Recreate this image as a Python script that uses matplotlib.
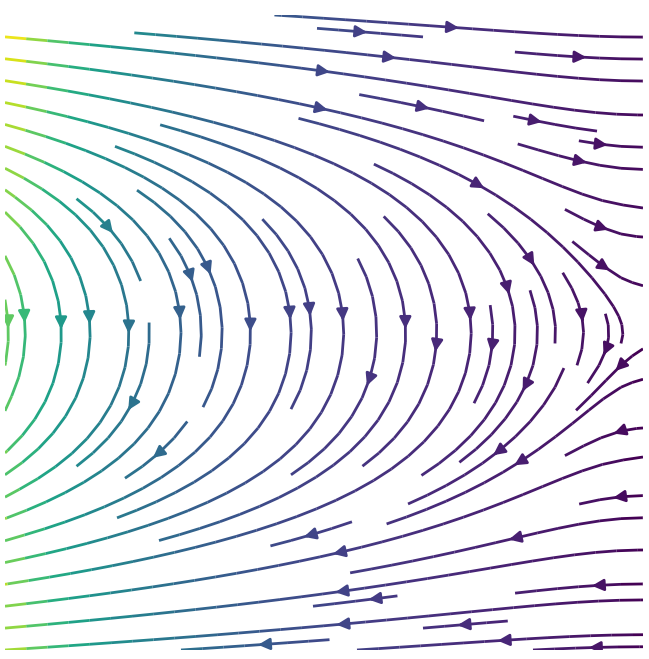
import numpy as np
import matplotlib
matplotlib.use('Agg')
import matplotlib.pyplot as plt

# grid extent (x left->right, y centred on the saddle at the right edge)
x_range = [0.0, 1.0]
y_range = [-0.5, 0.5]
n_grid = 200

# shape parameters of the flow
k_y = 8.3        # how fast the horizontal flow grows away from the middle
f_far = 0.25     # downward drift on the left part
beta = 1.5       # saddle strength at the right edge
# colour (intensity) parameters
decay = 4.2
edge_boost = 0.3

x = np.linspace(x_range[0], x_range[1], n_grid)
y = np.linspace(y_range[0], y_range[1], n_grid)
X, Y = np.meshgrid(x, y)

U = np.sinh(k_y * Y) / k_y
V = -f_far * np.tanh(beta * (1 - X) / f_far)
C = np.sqrt(1 - X) / (1 + decay * X) * (1 + edge_boost * (2 * Y) ** 2)

fig = plt.figure(figsize=(6.49, 6.59), dpi=100)
ax = fig.add_axes([5 / 649, 9 / 659, 638 / 649, 635 / 659])
ax.streamplot(X, Y, U, V, color=C, cmap='viridis', density=1.0,
              linewidth=2, arrowsize=1.7)
ax.set_xlim(x_range)
ax.set_ylim(y_range)
ax.axis('off')

fig.savefig('out.png', dpi=100)
